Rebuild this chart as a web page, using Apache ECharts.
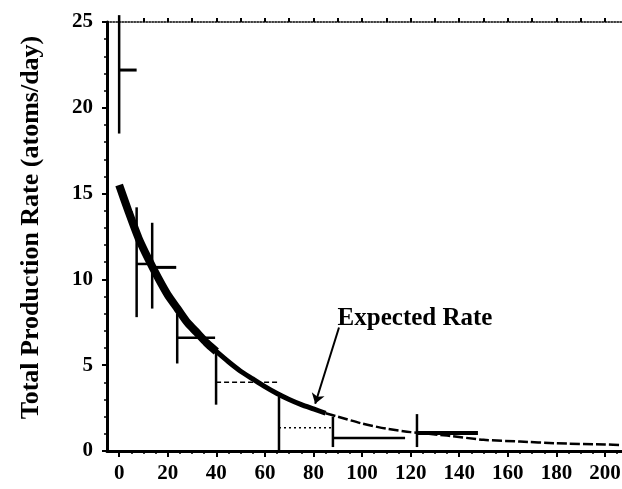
<!DOCTYPE html>
<html>
<head>
<meta charset="utf-8">
<script src="https://cdn.jsdelivr.net/npm/echarts@6/dist/echarts.min.js"></script>
<style>
  html, body { margin: 0; padding: 0; background: #fff; }
  #chart { width: 622px; height: 489px; }
</style>
</head>
<body>
<div id="chart"></div>
<script>
// tick labels
var dayTicks = [0, 20, 40, 60, 80, 100, 120, 140, 160, 180, 200]

// measured extractions: bin start / end (days), rate, error range
var binStart = [0, 7.2, 13.6, 23.9, 39.9, 65.8, 88, 122.6]
var binEnd = [7.2, 13.6, 23.5, 39.5, 65.4, 87.7, 117.7, 147.7]
var rate = [22.2, 10.9, 10.7, 6.6, 4.0, 1.35, 0.76, 1.05]
var errLow = [18.5, 7.8, 8.3, 5.1, 2.7, 0, 0.23, 0.23]
var errHigh = [25.4, 14.2, 13.3, 8.0, 5.9, 3.15, 2.0, 2.15]

// expected rate curve
var expectedDays = [0, 4, 8, 12, 16, 20, 24, 28, 32, 36, 40, 45, 50, 55, 60, 65, 70, 75, 80, 85, 90, 100, 110, 120, 135, 150, 165, 180, 200, 207]
var expectedRate = [15.5, 13.9, 12.4, 11.2, 10.1, 9.1, 8.3, 7.5, 6.9, 6.3, 5.8, 5.2, 4.65, 4.2, 3.75, 3.35, 3.0, 2.7, 2.45, 2.2, 2.0, 1.6, 1.3, 1.1, 0.9, 0.65, 0.55, 0.45, 0.38, 0.35]

// annotation "Expected Rate": text spot and leader line ends
var noteText = [121.8, 7.7]
var noteFrom = [90.5, 7.2]
var noteTo = [80.7, 2.75]

// how each horizontal bin line looks (scan is uneven)
var binLook = [
  { w: 3, dash: null },
  { w: 2.5, dash: null },
  { w: 3, dash: null },
  { w: 2.5, dash: null },
  { w: 1.5, dash: [5, 3] },
  { w: 1.5, dash: [2, 3] },
  { w: 2.5, dash: null },
  { w: 4, dash: null }
]

var font = 'Liberation Serif'
var minorDays = []
for (var d = 0; d <= 205; d += 5) minorDays.push(d)
var topDays = []
for (var t = 0; t <= 200; t += 10) topDays.push(t)

var bins = binStart.map(function (s, i) {
  return [s, binEnd[i], rate[i], errLow[i], errHigh[i]]
})

function curvePart(from, to) {
  var out = []
  expectedDays.forEach(function (x, i) {
    if (x >= from && x <= to) out.push([x, expectedRate[i]])
  })
  return out
}

function renderBin(params, api) {
  var look = binLook[params.dataIndex]
  var a = api.coord([api.value(0), api.value(2)])
  var b = api.coord([api.value(1), api.value(2)])
  var lo = api.coord([api.value(0), api.value(3)])
  var hi = api.coord([api.value(0), api.value(4)])
  return {
    type: 'group',
    children: [
      { type: 'line', shape: { x1: lo[0], y1: lo[1], x2: hi[0], y2: hi[1] },
        style: { stroke: '#000', lineWidth: 2.5 } },
      { type: 'line', shape: { x1: a[0], y1: a[1], x2: b[0], y2: b[1] },
        style: { stroke: '#000', lineWidth: look.w, lineDash: look.dash } }
    ]
  }
}

var myChart = echarts.init(document.getElementById('chart'))
myChart.setOption({
  animation: false,
  backgroundColor: '#fff',
  grid: { left: 107, right: 0, top: 22, bottom: 38, containLabel: false, outerBoundsMode: 'none' },
  xAxis: [
    {
      type: 'value', min: -5, max: 207, position: 'bottom',
      axisLine: { onZero: false, lineStyle: { color: '#000', width: 3 } },
      axisTick: { customValues: dayTicks, length: 6, lineStyle: { color: '#000', width: 2 } },
      axisLabel: { customValues: dayTicks, color: '#000', fontFamily: font, fontWeight: 'bold', fontSize: 21, margin: 12 },
      splitLine: { show: false }
    },
    {
      type: 'value', min: -5, max: 207, position: 'bottom',
      axisLine: { show: false, onZero: false },
      axisTick: { customValues: minorDays, length: 3, lineStyle: { color: '#000', width: 1.5 } },
      axisLabel: { show: false },
      splitLine: { show: false }
    },
    {
      type: 'value', min: -5, max: 207, position: 'top',
      axisLine: { onZero: false, lineStyle: { color: '#000', width: 1.5, type: 'dotted' } },
      axisTick: { customValues: topDays, length: 4, lineStyle: { color: '#000', width: 2 } },
      axisLabel: { show: false },
      splitLine: { show: false }
    }
  ],
  yAxis: {
    type: 'value', min: 0, max: 25, interval: 5,
    name: 'Total Production Rate (atoms/day)',
    nameLocation: 'middle', nameRotate: 90, nameGap: 63,
    nameTextStyle: { color: '#000', fontFamily: font, fontWeight: 'bold', fontSize: 26, padding: [0, 0, 0, 18] },
    axisLine: { onZero: false, lineStyle: { color: '#000', width: 3 } },
    axisTick: { length: 5, lineStyle: { color: '#000', width: 2 } },
    minorTick: { show: true, splitNumber: 5, length: 3, lineStyle: { color: '#000', width: 1.5 } },
    axisLabel: { color: '#000', fontFamily: font, fontWeight: 'bold', fontSize: 21, margin: 14 },
    splitLine: { show: false }
  },
  series: [
    {
      type: 'custom',
      renderItem: renderBin,
      encode: { x: [0, 1], y: [2, 3, 4] },
      data: bins,
      z: 3
    },
    {
      type: 'line', smooth: 0.2, symbol: 'none',
      lineStyle: { color: '#000', width: 8 },
      data: curvePart(0, 40)
    },
    {
      type: 'line', smooth: 0.2, symbol: 'none',
      lineStyle: { color: '#000', width: 5 },
      data: curvePart(36, 85)
    },
    {
      type: 'line', smooth: 0.2, symbol: 'none',
      lineStyle: { color: '#000', width: 2.5, type: [10, 3] },
      data: curvePart(85, 207),
      markLine: {
        silent: true,
        symbol: ['none', 'arrow'],
        symbolSize: 10,
        lineStyle: { color: '#000', width: 2, type: 'solid' },
        label: { show: false },
        data: [[{ coord: noteFrom }, { coord: noteTo }]]
      },
      markPoint: {
        silent: true,
        symbol: 'circle',
        symbolSize: 1,
        itemStyle: { color: 'rgba(0,0,0,0)' },
        label: {
          show: true, position: 'inside', formatter: 'Expected Rate',
          color: '#000', fontFamily: font, fontWeight: 'bold', fontSize: 25
        },
        data: [{ coord: noteText }]
      }
    }
  ]
})
</script>
</body>
</html>
